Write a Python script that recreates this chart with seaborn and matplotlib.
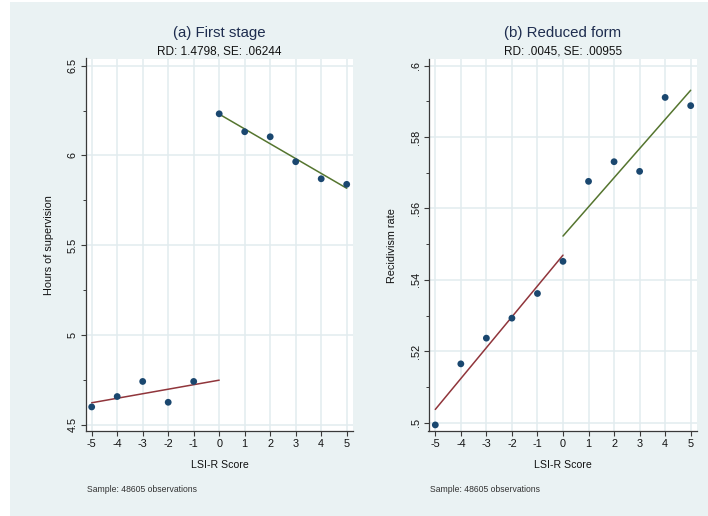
import numpy as np
import pandas as pd
import matplotlib
matplotlib.use("Agg")
import matplotlib.pyplot as plt
import seaborn as sns

# Binned means by LSI-R score (distance from the cutoff)
scores = [-5, -4, -3, -2, -1, 0, 1, 2, 3, 4, 5]
hours_supervision = [4.599, 4.657, 4.741, 4.625, 4.741,
                     6.232, 6.132, 6.104, 5.965, 5.870, 5.839]
recidivism_rate = [0.4994, 0.5165, 0.5237, 0.5293, 0.5362,
                   0.5452, 0.5676, 0.5731, 0.5704, 0.5911, 0.5888]
cutoff = 0

panel_titles = ["(a) First stage", "(b) Reduced form"]
panel_subtitles = ["RD: 1.4798, SE: .06244", "RD: .0045, SE: .00955"]
y_labels = ["Hours of supervision", "Recidivism rate"]
x_label = "LSI-R Score"
note_text = "Sample: 48605 observations"

y_major = [[4.5, 5, 5.5, 6, 6.5], [0.5, 0.52, 0.54, 0.56, 0.58, 0.6]]
y_major_labels = [["4.5", "5", "5.5", "6", "6.5"],
                  [".5", ".52", ".54", ".56", ".58", ".6"]]
y_minor = [[4.75, 5.25, 5.75, 6.25], [0.51, 0.53, 0.55, 0.57, 0.59]]
x_ticks = list(range(-5, 6))

BG = "#EAF2F3"
GRID = "#E2ECEF"
NAVY = "#1A476F"
MAROON = "#90353B"
GREEN = "#55752F"
AXIS = "#3A3A3A"
TITLE = "#1E2D4F"

sns.set_theme(style="white")
plt.rcParams["font.family"] = ["Liberation Sans", "DejaVu Sans"]

W, H = 708, 516
fig = plt.figure(figsize=(W / 100, H / 100), dpi=100, facecolor="white")

# graph region background
fig.patches.append(plt.Rectangle((10 / W, 0), 1 - 10 / W, 1 - 2 / H,
                                 transform=fig.transFigure, facecolor=BG,
                                 edgecolor="none", zorder=-10))


def fx(px):
    return px / W


def fy(py):
    return 1 - py / H


panels = [
    dict(left=85.7, right=353.3, y=hours_supervision,
         xlim=(-5.235, 5.259), ylim=(4.465, 6.540)),
    dict(left=428.5, right=696.7, y=recidivism_rate,
         xlim=(-5.266, 5.235), ylim=(0.4977, 0.6020)),
]
top, bottom = 58.5, 431.0

for i, p in enumerate(panels):
    ax = fig.add_axes([fx(p["left"]), fy(bottom),
                       fx(p["right"] - p["left"]), (bottom - top) / H])
    ax.set_zorder(1)
    ax.set_facecolor("white")
    df = pd.DataFrame({"score": scores, "value": p["y"]})
    below = df[df["score"] < cutoff]
    above = df[df["score"] >= cutoff]

    # linear fits on each side of the cutoff
    fits = []
    for side, lo, hi, col in [(below, below["score"].min(), cutoff, MAROON),
                              (above, cutoff, above["score"].max(), GREEN)]:
        b, a = np.polyfit(side["score"], side["value"], 1)
        xs = np.array([lo, hi], dtype=float)
        fits.append(pd.DataFrame({"score": xs, "fit": a + b * xs, "c": col}))
    for f in fits:
        sns.lineplot(data=f, x="score", y="fit", color=f["c"].iloc[0],
                     linewidth=1.1, ax=ax, zorder=3)

    sns.scatterplot(data=df, x="score", y="value", color=NAVY, s=24,
                    edgecolor="none", ax=ax, zorder=4)

    ax.set_xlim(*p["xlim"])
    ax.set_ylim(*p["ylim"])
    ax.set_xticks(x_ticks)
    ax.set_xticklabels([str(t) for t in x_ticks])
    ax.set_yticks(y_major[i])
    ax.set_yticklabels(y_major_labels[i], rotation=90, va="center")
    ax.set_yticks(y_minor[i], minor=True)
    ax.set_xlabel("")
    ax.set_ylabel("")
    ax.grid(True, which="major", color=GRID, linewidth=1.1)
    ax.set_axisbelow(True)
    for s in ["top", "right"]:
        ax.spines[s].set_visible(False)
    for s in ["left", "bottom"]:
        ax.spines[s].set_color(AXIS)
        ax.spines[s].set_linewidth(0.9)
    ax.tick_params(axis="both", which="major", direction="out", length=3.6,
                   width=0.8, color=AXIS, labelsize=7.8, labelcolor="#111111",
                   pad=2, left=True, bottom=True)
    ax.tick_params(axis="y", which="minor", direction="out", length=2.2,
                   width=0.7, color=AXIS, left=True)

    cx = (p["left"] + p["right"]) / 2
    fig.text(fx(cx), fy(33.5), panel_titles[i], ha="center", va="center",
             fontsize=10.8, color=TITLE)
    fig.text(fx(cx), fy(51), panel_subtitles[i], ha="center", va="center",
             fontsize=8.5, color="#111111")
    fig.text(fx(cx), fy(465), x_label, ha="center", va="center",
             fontsize=7.6, color="#111111")
    fig.text(fx(p["left"] - 36.5), fy((top + bottom) / 2 + 0.5), y_labels[i],
             ha="center", va="center", rotation=90, fontsize=7.8,
             color="#111111")
    fig.text(fx(p["left"] + 1), fy(490), note_text, ha="left", va="center",
             fontsize=6.2, color="#333333")

fig.savefig("out.png", dpi=100, facecolor="white")
